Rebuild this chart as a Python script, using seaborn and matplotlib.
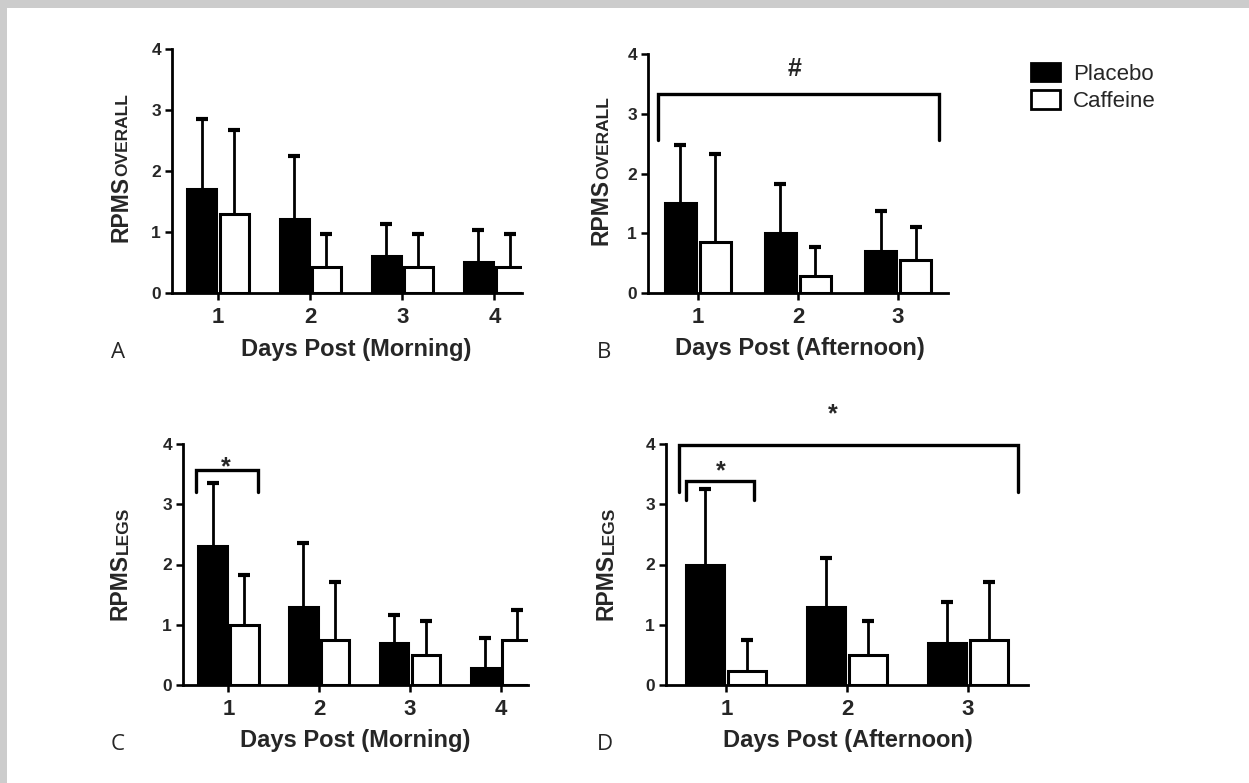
import matplotlib
matplotlib.use("Agg")
import matplotlib.pyplot as plt
from matplotlib.patches import Patch, Rectangle
import numpy as np
import pandas as pd
import seaborn as sns

# ---------------- data ----------------
groups = ["Placebo", "Caffeine"]
days_morning = ["1", "2", "3", "4"]
days_afternoon = ["1", "2", "3"]

# Panel A: RPMS overall, morning
a_placebo = [1.71, 1.22, 0.61, 0.51]
a_placebo_sd = [1.15, 1.02, 0.52, 0.52]
a_caffeine = [1.29, 0.43, 0.43, 0.43]
a_caffeine_sd = [1.38, 0.53, 0.53, 0.53]

# Panel B: RPMS overall, afternoon
b_placebo = [1.50, 1.01, 0.70]
b_placebo_sd = [0.97, 0.81, 0.67]
b_caffeine = [0.85, 0.28, 0.56]
b_caffeine_sd = [1.47, 0.49, 0.54]

# Panel C: RPMS legs, morning
c_placebo = [2.30, 1.29, 0.69, 0.29]
c_placebo_sd = [1.05, 1.06, 0.48, 0.49]
c_caffeine = [0.99, 0.74, 0.49, 0.75]
c_caffeine_sd = [0.83, 0.97, 0.58, 0.50]

# Panel D: RPMS legs, afternoon
d_placebo = [2.00, 1.29, 0.69]
d_placebo_sd = [1.25, 0.82, 0.68]
d_caffeine = [0.24, 0.49, 0.75]
d_caffeine_sd = [0.51, 0.58, 0.96]

y_ticks = [0, 1, 2, 3, 4]

# significance brackets: (x_start, x_end, y_top, y_end, label, label_x, label_y)
b_brackets = [(-0.40, 2.405, 3.33, 2.56, "#", 0.97, 3.64)]
c_brackets = [(-0.357, 0.327, 3.57, 3.20, "*", -0.026, 3.50)]
d_brackets = [(-0.393, 2.417, 3.99, 3.21, "*", 0.88, 4.38),
              (-0.335, 0.227, 3.39, 3.07, "*", -0.045, 3.43)]

# ---------------- style ----------------
sns.set_style("ticks")
plt.rcParams["font.family"] = ["Liberation Sans", "DejaVu Sans"]

W, H = 1249, 783
fig = plt.figure(figsize=(W / 100, H / 100), dpi=100)
fig.patch.set_facecolor("white")
# grey page border (top and left)
fig.patches.append(Rectangle((0, 1 - 8 / H), 1, 8 / H, transform=fig.transFigure,
                             facecolor="#cccccc", edgecolor="none", zorder=-10))
fig.patches.append(Rectangle((0, 0), 7 / W, 1, transform=fig.transFigure,
                             facecolor="#cccccc", edgecolor="none", zorder=-10))


def px_axes(left, right, top, bottom):
    return fig.add_axes([left / W, 1 - bottom / H, (right - left) / W, (bottom - top) / H])


def draw_panel(ax, days, placebo, placebo_sd, caffeine, caffeine_sd, xright,
               xlabel, ymain, ysmall, ylab_x, ylab_y, xlab_x, xlab_y, brackets):
    df = pd.DataFrame({
        "day": days * 2,
        "group": ["Placebo"] * len(days) + ["Caffeine"] * len(days),
        "value": list(placebo) + list(caffeine),
    })
    sns.barplot(data=df, x="day", y="value", hue="group", order=days, hue_order=groups,
                palette={"Placebo": "black", "Caffeine": "white"}, edgecolor="black",
                linewidth=2.2, width=0.7, gap=0.1, errorbar=None, legend=False, ax=ax,
                zorder=2)
    # upper-only error bars with a cap on top
    for cont, sds in zip(ax.containers, [placebo_sd, caffeine_sd]):
        xs = np.array([p.get_x() + p.get_width() / 2 for p in cont.patches])
        ys = np.array([p.get_height() for p in cont.patches])
        tops = ys + np.array(sds)
        ax.vlines(xs, ys, tops, color="black", lw=2.0, zorder=1)
        ax.plot(xs, tops, ls="none", marker="_", ms=9, mew=3.0, color="black",
                zorder=1, clip_on=False)
    ax.set_ylim(0, 4)
    ax.set_xlim(-0.5, xright)
    ax.set_yticks(y_ticks)
    ax.set_yticklabels([str(t) for t in y_ticks], fontsize=12.5, fontweight="bold")
    ax.set_xticks(range(len(days)))
    ax.set_xticklabels(days, fontsize=16, fontweight="bold")
    ax.tick_params(axis="both", direction="out", length=5, width=1.8, color="black", pad=3)
    ax.tick_params(axis="x", pad=5)
    for side in ["top", "right"]:
        ax.spines[side].set_visible(False)
    for side in ["left", "bottom"]:
        ax.spines[side].set_linewidth(2.0)
        ax.spines[side].set_color("black")
    ax.set_xlabel(xlabel, fontsize=17, fontweight="bold")
    ax.xaxis.set_label_coords(xlab_x, xlab_y)
    lab = ax.set_ylabel(ymain, fontsize=16.5, fontweight="bold")
    ax.yaxis.set_label_coords(ylab_x, ylab_y)
    ax.annotate(ysmall, xy=(1, 1), xycoords=lab, xytext=(-1, 0), textcoords="offset points",
                rotation=90, ha="right", va="bottom", fontsize=12.5, fontweight="bold")
    for x0, x1, yt, ye, txt, tx, ty in brackets:
        ax.plot([x0, x0, x1, x1], [ye, yt, yt, ye], color="black", lw=2.4,
                solid_joinstyle="miter", clip_on=False, zorder=3)
        ax.text(tx, ty, txt, ha="center", va="baseline", fontsize=18, fontweight="bold",
                clip_on=False)


axA = px_axes(172, 522, 49, 293)
draw_panel(axA, days_morning, a_placebo, a_placebo_sd, a_caffeine, a_caffeine_sd, 3.3,
           "Days Post (Morning)", "RPMS", "OVERALL", -0.114, 0.346, 0.526, -0.185, [])

axB = px_axes(648, 948, 54, 293)
draw_panel(axB, days_afternoon, b_placebo, b_placebo_sd, b_caffeine, b_caffeine_sd, 2.5,
           "Days Post (Afternoon)", "RPMS", "OVERALL", -0.117, 0.337, 0.507, -0.185, b_brackets)

axC = px_axes(183, 528, 444, 685)
draw_panel(axC, days_morning, c_placebo, c_placebo_sd, c_caffeine, c_caffeine_sd, 3.3,
           "Days Post (Morning)", "RPMS", "LEGS", -0.148, 0.405, 0.50, -0.182, c_brackets)

axD = px_axes(666, 1028, 444, 685)
draw_panel(axD, days_afternoon, d_placebo, d_placebo_sd, d_caffeine, d_caffeine_sd, 2.5,
           "Days Post (Afternoon)", "RPMS", "LEGS", -0.133, 0.405, 0.503, -0.182, d_brackets)

# panel letters
for letter, (x, y) in zip("ABCD", [(111, 353), (597, 353), (111, 745), (597, 745)]):
    fig.text(x / W, 1 - y / H, letter, fontsize=16, family=["Open Sans", "DejaVu Sans"],
             ha="left", va="center")

# legend
handles = [Patch(facecolor="black", edgecolor="black", linewidth=2, label="Placebo"),
           Patch(facecolor="white", edgecolor="black", linewidth=2, label="Caffeine")]
fig.legend(handles=handles, loc="upper left", bbox_to_anchor=(1031 / W, 1 - 63 / H),
           frameon=False, fontsize=16, handlelength=1.3, handleheight=0.9,
           handletextpad=0.6, labelspacing=0.25, borderpad=0, borderaxespad=0)

fig.savefig("out.png", dpi=100, facecolor="white")
